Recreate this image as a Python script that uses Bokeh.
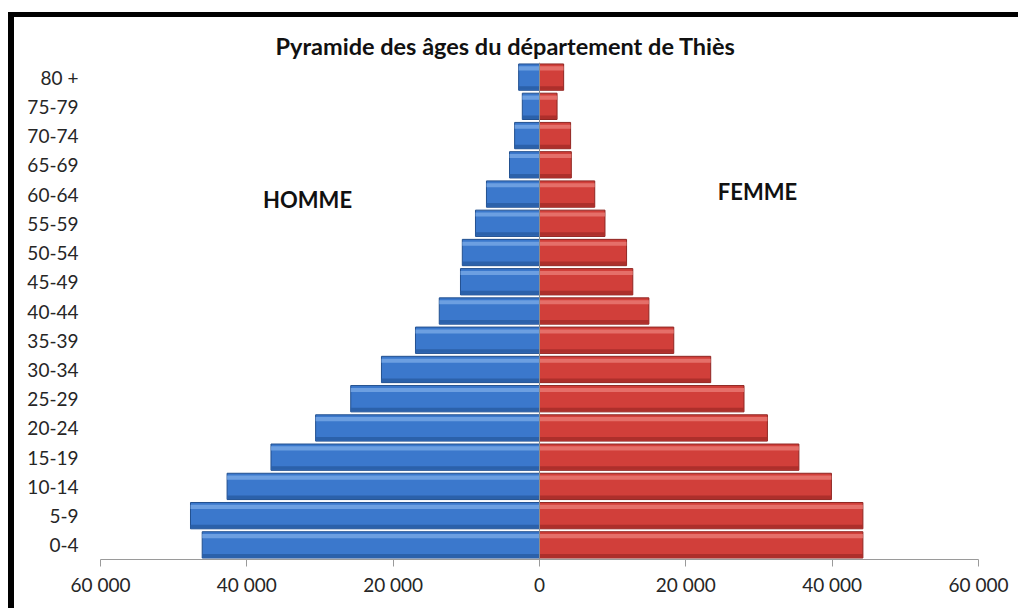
from bokeh.plotting import figure
from bokeh.models import FactorRange, Range1d, FixedTicker, Label, Span, ColumnDataSource
from bokeh.transform import dodge
from bokeh.embed import file_html
from bokeh.resources import INLINE

ages = ["0-4", "5-9", "10-14", "15-19", "20-24", "25-29", "30-34", "35-39",
        "40-44", "45-49", "50-54", "55-59", "60-64", "65-69", "70-74", "75-79", "80 +"]
hommes = [46100, 47700, 42700, 36700, 30600, 25800, 21600, 16950,
          13700, 10800, 10550, 8750, 7250, 4100, 3400, 2350, 2850]
femmes = [44200, 44200, 39900, 35450, 31150, 27950, 23400, 18350,
          14950, 12750, 11900, 8950, 7550, 4350, 4250, 2400, 3300]
tick_values = [-60000, -40000, -20000, 0, 20000, 40000, 60000]
tick_labels = ["60 000", "40 000", "20 000", "0", "20 000", "40 000", "60 000"]

FONT = "Lato"
W, H = 1010, 596

src = ColumnDataSource(dict(age=ages, h=[-v for v in hommes], f=femmes,
                            zero=[0] * len(ages)))

p = figure(width=W, height=H, output_backend="svg", toolbar_location=None,
           y_range=FactorRange(*ages, range_padding=0),
           x_range=Range1d(-60000, 60000),
           min_border_left=86, min_border_right=46, min_border_top=45, min_border_bottom=54)
p.styles = {"margin-left": "8px", "margin-top": "12px",
            "border-left": "6px solid black", "border-top": "5px solid black"}
p.outline_line_color = None
p.xgrid.grid_line_color = None
p.ygrid.grid_line_color = None

p.title.text = "Pyramide des âges du département de Thiès"
p.title.text_font = FONT
p.title.text_font_size = "23.5px"
p.title.text_font_style = "bold"
p.title.text_color = "#111111"
p.title.align = "left"
p.title.offset = 175
p.title.standoff = 6

# bars
p.hbar(y="age", left="h", right="zero", height=0.9, source=src,
       fill_color="#3b78cc", line_color="#22508f", line_width=1)
p.hbar(y="age", left="f", right="zero", height=0.9, source=src,
       fill_color="#d13f3a", line_color="#8f2622", line_width=1)
# bevel highlights
p.hbar(y=dodge("age", 0.3, range=p.y_range), left="h", right="zero", height=0.14, source=src,
       fill_color="#79a9e6", line_color=None, fill_alpha=0.8)
p.hbar(y=dodge("age", 0.3, range=p.y_range), left="f", right="zero", height=0.14, source=src,
       fill_color="#ea7c76", line_color=None, fill_alpha=0.8)
p.hbar(y=dodge("age", -0.37, range=p.y_range), left="h", right="zero", height=0.12, source=src,
       fill_color="#2a5ea6", line_color=None, fill_alpha=0.9)
p.hbar(y=dodge("age", -0.37, range=p.y_range), left="f", right="zero", height=0.12, source=src,
       fill_color="#a82e2a", line_color=None, fill_alpha=0.9)

p.add_layout(Span(location=0, dimension="height", line_color="#8c8c8c", line_width=1))

# x axis
xa = p.xaxis[0]
xa.ticker = FixedTicker(ticks=tick_values)
xa.major_label_overrides = {t: l for t, l in zip(tick_values, tick_labels)}
xa.axis_line_color = "#9a9a9a"
xa.major_tick_line_color = "#9a9a9a"
xa.major_tick_in = 0
xa.major_tick_out = 7
xa.minor_tick_line_color = None
xa.major_label_text_font = FONT
xa.major_label_text_font_size = "19px"
xa.major_label_text_color = "#262626"
xa.major_label_standoff = 6

# y axis
ya = p.yaxis[0]
ya.axis_line_color = None
ya.major_tick_line_color = None
ya.minor_tick_line_color = None
ya.major_label_text_font = FONT
ya.major_label_text_font_size = "19px"
ya.major_label_text_color = "#262626"
ya.major_label_standoff = 16

p.add_layout(Label(x=-31700, y=12.32, text="HOMME", text_font=FONT, text_font_size="22px",
                   text_font_style="bold", text_color="#111111",
                   text_align="center", text_baseline="middle"))
p.add_layout(Label(x=29800, y=12.6, text="FEMME", text_font=FONT, text_font_size="22px",
                   text_font_style="bold", text_color="#111111",
                   text_align="center", text_baseline="middle"))

open("out.html", "w").write(file_html(p, INLINE))
